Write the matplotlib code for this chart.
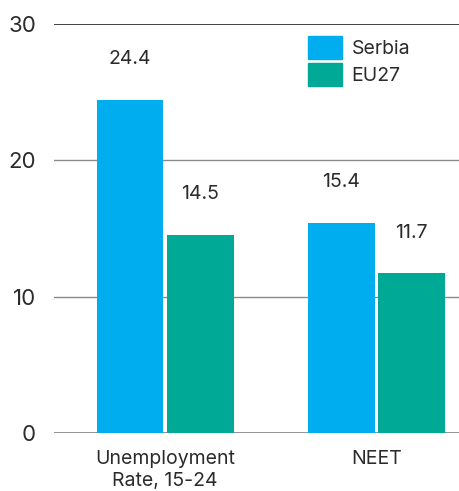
import matplotlib.pyplot as plt
import numpy as np
from matplotlib.patches import Patch

# ── Data ──────────────────────────────────────────────────────────────────────
categories = ["Unemployment\nRate, 15-24", "NEET"]
serbia = [24.4, 15.4]
eu27 = [14.5, 11.7]
yticks = [0, 10, 20, 30]

COLORS = {"serbia": "#00aeef", "eu27": "#00a896", "text": "#2b2b2b"}

plt.rcParams["font.family"] = ["Inter", "DejaVu Sans"]

fig = plt.figure(figsize=(4.59, 4.91), dpi=100)
ax = fig.add_axes([54 / 459, 58 / 491, 1 - 54 / 459, (433 - 24) / 491])

x = np.arange(len(categories))
w = 0.316
off = 0.166

b1 = ax.bar(x - off, serbia, w, color=COLORS["serbia"], zorder=3)
b2 = ax.bar(x + off, eu27, w, color=COLORS["eu27"], zorder=3)

for bars, vals in ((b1, serbia), (b2, eu27)):
    for b, v in zip(bars, vals):
        ax.text(
            b.get_x() + b.get_width() / 2,
            v + 3.0,
            f"{v:.1f}",
            ha="center",
            va="center",
            fontsize=14,
            color=COLORS["text"],
        )

# gridlines
for t in yticks:
    col = "#333333" if t == 30 else "#8a8a8a"
    ax.axhline(t, color=col, lw=1.3 if t in (0, 30) else 1.0, zorder=1)

ax.set_xlim(-0.525, 1.39)
ax.set_ylim(0, 30)
ax.set_yticks(yticks)
ax.set_xticks(x)
ax.set_xticklabels(categories, fontsize=14, color=COLORS["text"], linespacing=1.3)
ax.tick_params(axis="y", length=0, pad=13, labelsize=16, labelcolor=COLORS["text"])
ax.tick_params(axis="x", length=0, pad=12)
for s in ax.spines.values():
    s.set_visible(False)

handles = [
    Patch(color=COLORS["serbia"], label="Serbia"),
    Patch(color=COLORS["eu27"], label="EU27"),
]
ax.legend(
    handles=handles,
    loc="upper left",
    bbox_to_anchor=(0.627, 0.971),
    borderpad=0,
    borderaxespad=0,
    frameon=False,
    fontsize=14,
    handlelength=1.75,
    handleheight=1.45,
    handletextpad=0.5,
    labelspacing=0.22,
    labelcolor=COLORS["text"],
)

fig.savefig("out.png", dpi=100)
